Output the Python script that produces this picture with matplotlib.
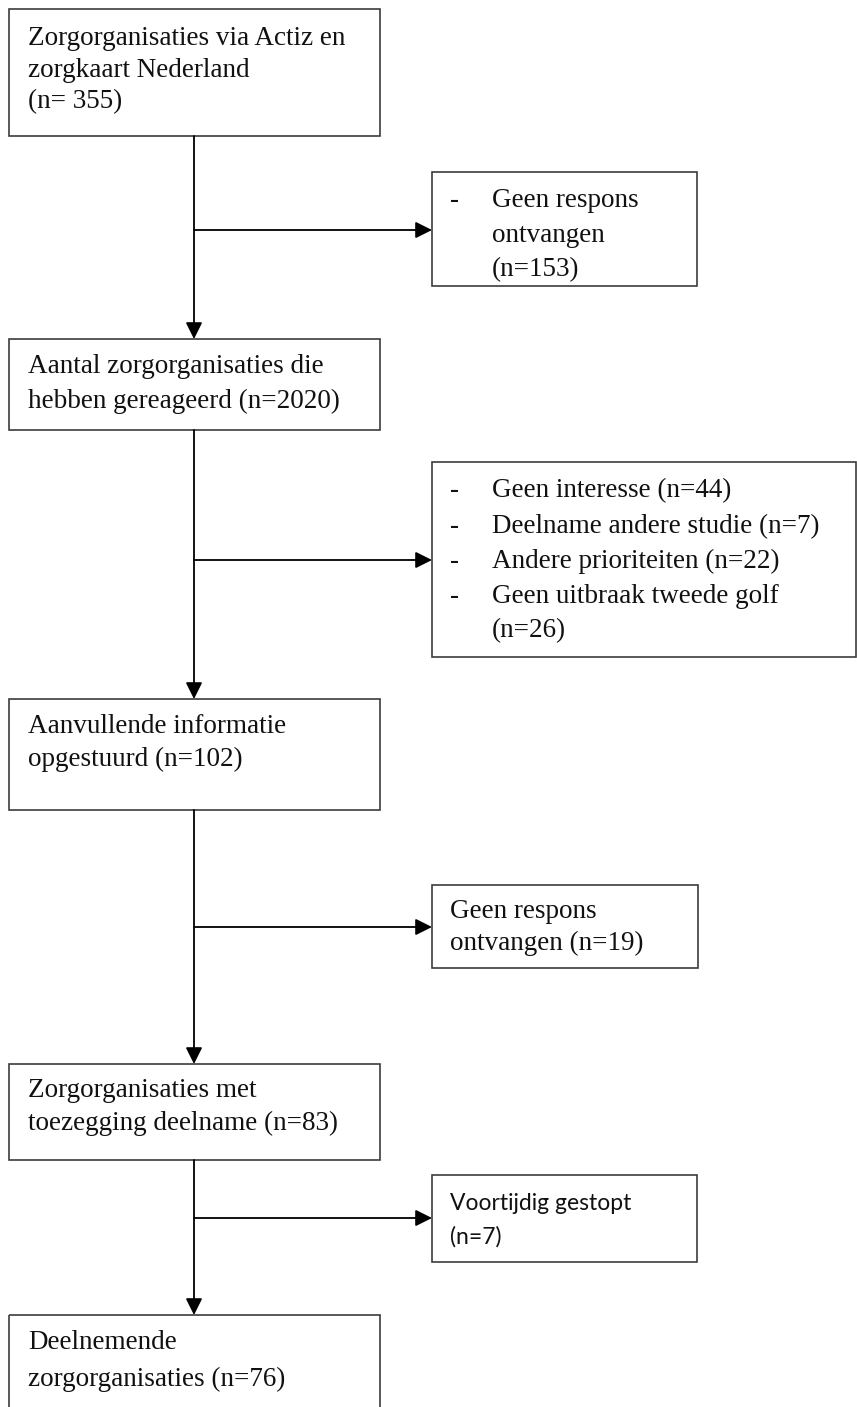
import matplotlib
matplotlib.use("Agg")
import matplotlib.pyplot as plt
from matplotlib.patches import Rectangle

# ---------------- data (texts / counts) ----------------
main_labels = [
    ["Zorgorganisaties via Actiz en", "zorgkaart Nederland", "(n= 355)"],
    ["Aantal zorgorganisaties die", "hebben gereageerd (n=2020)"],
    ["Aanvullende informatie", "opgestuurd (n=102)"],
    ["Zorgorganisaties met", "toezegging deelname (n=83)"],
    ["Deelnemende", "zorgorganisaties (n=76)"],
]
excl1_lines = ["Geen respons", "ontvangen", "(n=153)"]
excl1_bullets = [True, False, False]
excl2_lines = ["Geen interesse (n=44)", "Deelname andere studie (n=7)",
               "Andere prioriteiten (n=22)", "Geen uitbraak tweede golf", "(n=26)"]
excl2_bullets = [True, True, True, True, False]
excl3_lines = ["Geen respons", "ontvangen (n=19)"]
excl4_lines = ["Voortijdig gestopt", "(n=7)"]

# ---------------- layout ----------------
W, H = 857, 1407
fig = plt.figure(figsize=(W / 100, H / 100), dpi=100)
ax = fig.add_axes([0, 0, 1, 1])
ax.set_xlim(0, W)
ax.set_ylim(H, 0)
ax.axis("off")

SERIF = ["Liberation Serif", "DejaVu Serif"]
SANS = ["Lato", "DejaVu Sans"]
FS = 19.5
EDGE = "#3c3c3c"
LW_BOX = 1.2
LW_ARR = 1.3

main_x0, main_x1 = 9, 380
main_boxes = [(9, 136), (339, 430), (699, 810), (1064, 1160), (1315, 1430)]
main_baselines = [[45, 77, 108], [373, 408], [733, 766], [1097, 1130], [1349, 1386]]
spine_x = 194

side_x0 = 432
side_boxes = [(697, 172, 286), (856, 462, 657), (698, 885, 968), (697, 1175, 1262)]
arrow_ys = [230, 560, 927, 1218]


def box(x0, x1, y0, y1):
    ax.add_patch(Rectangle((x0, y0), x1 - x0, y1 - y0, fill=False,
                           edgecolor=EDGE, lw=LW_BOX, clip_on=True))


def arrow(x0, y0, x1, y1):
    ax.annotate("", xy=(x1, y1), xytext=(x0, y0),
                arrowprops=dict(arrowstyle="-|>,head_length=0.5,head_width=0.25",
                                color="black", lw=LW_ARR, mutation_scale=20,
                                shrinkA=0, shrinkB=0))


# main boxes
for (y0, y1), lines, bls in zip(main_boxes, main_labels, main_baselines):
    box(main_x0, main_x1, y0, y1)
    for ln, b in zip(lines, bls):
        ax.text(28, b, ln, family=SERIF, fontsize=FS, va="baseline", ha="left",
                color="#111111")

# vertical arrows between main boxes
for i in range(len(main_boxes) - 1):
    arrow(spine_x, main_boxes[i][1], spine_x, main_boxes[i + 1][0])

# horizontal arrows
for y in arrow_ys:
    arrow(spine_x, y, side_x0, y)

# side boxes
for (x1, y0, y1) in side_boxes:
    box(side_x0, x1, y0, y1)

# excl 1
for ln, bl, b in zip(excl1_lines, excl1_bullets, [207, 242, 276]):
    if bl:
        ax.text(450, b, "-", family=SERIF, fontsize=FS, va="baseline", color="#111111")
    ax.text(492, b, ln, family=SERIF, fontsize=FS, va="baseline", color="#111111")

# excl 2
for ln, bl, b in zip(excl2_lines, excl2_bullets, [497, 533, 568, 603, 637]):
    if bl:
        ax.text(450, b, "-", family=SERIF, fontsize=FS, va="baseline", color="#111111")
    ax.text(492, b, ln, family=SERIF, fontsize=FS, va="baseline", color="#111111")

# excl 3
for ln, b in zip(excl3_lines, [918, 950]):
    ax.text(450, b, ln, family=SERIF, fontsize=FS, va="baseline", color="#111111")

# excl 4 (sans)
for ln, b in zip(excl4_lines, [1210, 1244]):
    ax.text(450, b, ln, family=SANS, fontsize=16.5, va="baseline", color="#111111")

fig.savefig("out.png", dpi=100, facecolor="white")
